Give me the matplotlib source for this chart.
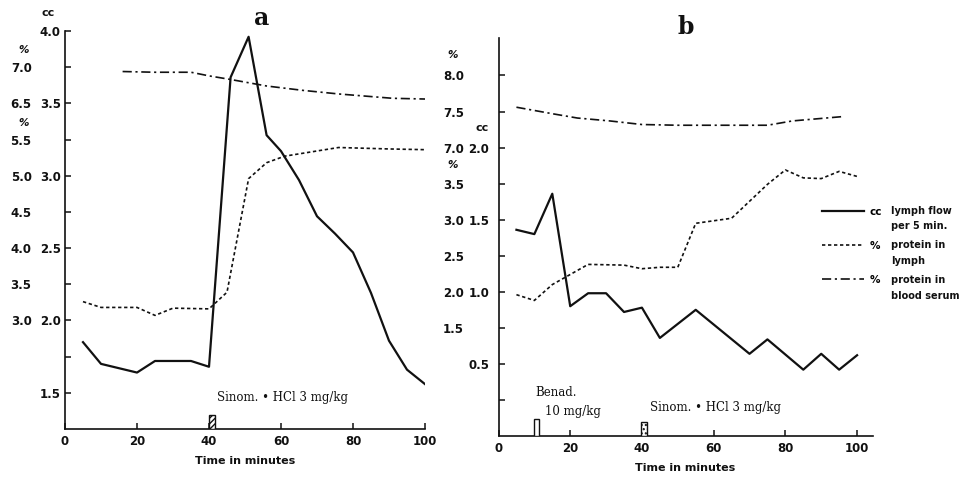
import matplotlib
matplotlib.use('Agg')
import matplotlib.pyplot as plt

# ---------------- data: panel a ----------------
a_flow_t = [5, 10, 20, 25, 35, 40, 46, 51, 56, 60, 65, 70, 75, 80, 85, 90, 95, 100]
a_flow_cc = [1.85, 1.70, 1.64, 1.72, 1.72, 1.68, 3.68, 3.96, 3.28, 3.17, 2.97, 2.72,
             2.60, 2.47, 2.19, 1.86, 1.66, 1.56]
a_lymph_t = [5, 10, 20, 25, 30, 40, 45, 51, 56, 61, 76, 90, 100]
a_lymph_pct = [3.26, 3.18, 3.18, 3.07, 3.17, 3.16, 3.39, 4.96, 5.18, 5.27, 5.39, 5.37, 5.36]
a_serum_t = [16, 25, 35, 40, 46, 56, 66, 76, 91, 100]
a_serum_pct = [6.94, 6.93, 6.93, 6.88, 6.83, 6.74, 6.68, 6.63, 6.57, 6.56]

# ---------------- data: panel b ----------------
b_flow_t = [5, 10, 15, 20, 25, 30, 35, 40, 45, 55, 70, 75, 85, 90, 95, 100]
b_flow_cc = [1.43, 1.40, 1.68, 0.90, 0.99, 0.99, 0.86, 0.89, 0.68, 0.875, 0.57, 0.67,
             0.46, 0.57, 0.46, 0.56]
b_lymph_t = [5, 10, 15, 20, 25, 35, 40, 45, 50, 55, 65, 75, 80, 85, 90, 95, 100]
b_lymph_pct = [1.96, 1.88, 2.10, 2.24, 2.38, 2.37, 2.32, 2.34, 2.34, 2.95, 3.02, 3.49,
               3.69, 3.58, 3.57, 3.67, 3.60]
b_serum_t = [5, 15, 22, 31, 40, 50, 65, 75, 82, 96]
b_serum_pct = [7.56, 7.47, 7.41, 7.37, 7.32, 7.31, 7.31, 7.31, 7.37, 7.43]

# injections
a_sinom_t = 40
b_benad_t = 10
b_sinom_t = 40

x_ticks = [0, 20, 40, 60, 80, 100]
a_cc_major = [1.5, 2.0, 2.5, 3.0, 3.5, 4.0]
a_cc_minor = [1.75, 2.25, 2.75, 3.25, 3.75]
a_lymph_ticks = [3.0, 3.5, 4.0, 4.5, 5.0, 5.5]
a_serum_ticks = [6.5, 7.0]
b_cc_major = [0.5, 1.0, 1.5, 2.0]
b_cc_minor = [0.25, 0.75, 1.25, 1.75, 2.25, 2.5]
b_lymph_ticks = [1.5, 2.0, 2.5, 3.0, 3.5]
b_serum_ticks = [7.0, 7.5, 8.0]

INK = '#111111'
TICKFONT = dict(family='DejaVu Sans', weight='bold', size=8.5)
SOLID = dict(color=INK, lw=1.6, ls='-')
DOTTED = dict(color=INK, lw=1.2, ls=(0, (2.0, 1.6)))
DASHDOT = dict(color=INK, lw=1.2, ls=(0, (5.5, 2.2, 1.3, 2.2)))

W, H = 977, 483
fig = plt.figure(figsize=(W / 100, H / 100), dpi=100)
fig.patch.set_facecolor('white')


def fx(px):
    return px / W


def fy(py):
    return 1 - py / H


def style_main(ax, major, minor, pad):
    for s in ('top', 'right'):
        ax.spines[s].set_visible(False)
    for s in ('left', 'bottom'):
        ax.spines[s].set_linewidth(1.2)
        ax.spines[s].set_color(INK)
    ax.set_xticks(x_ticks)
    ax.set_xticklabels([str(v) for v in x_ticks])
    ax.set_yticks(major)
    ax.set_yticklabels([f'{v:.1f}' for v in major])
    ax.set_yticks(minor, minor=True)
    ax.tick_params(axis='both', which='both', direction='in', length=4.5, width=1.1,
                   color=INK, labelcolor=INK)
    ax.tick_params(axis='y', which='both', pad=pad)
    ax.tick_params(axis='x', which='both', pad=4)
    ax.tick_params(axis='x', which='minor', bottom=False)
    for lab in ax.get_xticklabels() + ax.get_yticklabels():
        lab.set_fontfamily(TICKFONT['family'])
        lab.set_fontweight(TICKFONT['weight'])
        lab.set_fontsize(TICKFONT['size'])
    ax.set_xlabel('Time in minutes', fontsize=8, fontweight='bold', family='DejaVu Sans',
                  color=INK, labelpad=6)


def style_twin(tw, ticks, lim, pad):
    tw.set_ylim(*lim)
    for s in tw.spines.values():
        s.set_visible(False)
    tw.yaxis.tick_left()
    tw.set_yticks(ticks)
    tw.set_yticklabels([f'{v:.1f}' for v in ticks])
    tw.tick_params(axis='y', which='both', length=0, pad=pad, labelcolor=INK)
    for lab in tw.get_yticklabels():
        lab.set_fontfamily(TICKFONT['family'])
        lab.set_fontweight(TICKFONT['weight'])
        lab.set_fontsize(TICKFONT['size'])


# ---------------- panel a ----------------
ax_a = fig.add_axes([fx(65), fy(429), fx(360), (429 - 31) / H])
ax_a.set_xlim(0, 100)
ax_a.set_ylim(1.25, 4.0)
style_main(ax_a, a_cc_major, a_cc_minor, pad=3.0)
ax_a.plot(a_flow_t, a_flow_cc, **SOLID)

tw_a_l = ax_a.twinx()
style_twin(tw_a_l, a_lymph_ticks, (1.5, 7.0), pad=24)
tw_a_l.plot(a_lymph_t, a_lymph_pct, **DOTTED)

tw_a_s = ax_a.twinx()
style_twin(tw_a_s, a_serum_ticks, (2.0, 7.5), pad=24)
tw_a_s.plot(a_serum_t, a_serum_pct, **DASHDOT)

ax_a.bar([a_sinom_t + 0.9], [0.1], bottom=1.25, width=1.8, facecolor='white',
         edgecolor=INK, hatch='//////', lw=1.0, zorder=3)
ax_a.text(60.5, 1.47, 'Sinom. • HCl 3 mg/kg', ha='center', va='center', fontsize=8.5,
          family='DejaVu Serif', color=INK)

fig.text(fx(262), fy(18), 'a', ha='center', va='center', fontsize=17, fontweight='bold',
         family='DejaVu Serif', color=INK)
fig.text(fx(48), fy(13), 'cc', ha='center', va='center', fontsize=8, fontweight='bold',
         family='DejaVu Sans', color=INK)
fig.text(fx(24), fy(50), '%', ha='center', va='center', fontsize=7.5, fontweight='bold',
         family='DejaVu Sans', color=INK, style='italic')
fig.text(fx(24), fy(123), '%', ha='center', va='center', fontsize=7.5, fontweight='bold',
         family='DejaVu Sans', color=INK, style='italic')

# ---------------- panel b ----------------
ax_b = fig.add_axes([fx(498.5), fy(436), fx(374), (436 - 38) / H])
ax_b.set_xlim(0, 104.3)
ax_b.set_ylim(0, 2.76)
style_main(ax_b, b_cc_major, b_cc_minor, pad=6.5)
l_flow, = ax_b.plot(b_flow_t, b_flow_cc, **SOLID)

tw_b_l = ax_b.twinx()
style_twin(tw_b_l, b_lymph_ticks, (0.0, 5.52), pad=25)
l_lymph, = tw_b_l.plot(b_lymph_t, b_lymph_pct, **DOTTED)

tw_b_s = ax_b.twinx()
style_twin(tw_b_s, b_serum_ticks, (3.0, 8.52), pad=25)
l_serum, = tw_b_s.plot(b_serum_t, b_serum_pct, **DASHDOT)

ax_b.bar([b_benad_t + 0.7], [0.12], bottom=0, width=1.4, facecolor='white',
         edgecolor=INK, lw=1.0, zorder=3)
ax_b.bar([b_sinom_t + 0.5], [0.1], bottom=0, width=1.7, facecolor='white',
         edgecolor=INK, hatch='....', lw=1.0, zorder=3)
ax_b.text(10.4, 0.30, 'Benad.', ha='left', va='center', fontsize=8.5,
          family='DejaVu Serif', color=INK)
ax_b.text(12.9, 0.17, '10 mg/kg', ha='left', va='center', fontsize=8.5,
          family='DejaVu Serif', color=INK)
ax_b.text(60.6, 0.195, 'Sinom. • HCl 3 mg/kg', ha='center', va='center', fontsize=8.5,
          family='DejaVu Serif', color=INK)

fig.text(fx(686), fy(27), 'b', ha='center', va='center', fontsize=17, fontweight='bold',
         family='DejaVu Serif', color=INK)
fig.text(fx(482), fy(128), 'cc', ha='center', va='center', fontsize=8, fontweight='bold',
         family='DejaVu Sans', color=INK)
fig.text(fx(453), fy(55), '%', ha='center', va='center', fontsize=7.5, fontweight='bold',
         family='DejaVu Sans', color=INK, style='italic')
fig.text(fx(453), fy(165), '%', ha='center', va='center', fontsize=7.5, fontweight='bold',
         family='DejaVu Sans', color=INK, style='italic')

# ---------------- legend ----------------
leg = fig.legend(handles=[l_flow, l_lymph, l_serum], labels=['cc', '%', '%'],
                 loc='upper left', bbox_to_anchor=(fx(822), fy(207)), frameon=False,
                 handlelength=4.0, handletextpad=0.6, labelspacing=2.3, borderpad=0,
                 borderaxespad=0, prop=dict(family='DejaVu Sans', weight='bold', size=7.5))
desc = [('lymph flow', 211), ('per 5 min.', 226), ('protein in', 245), ('lymph', 261),
        ('protein in', 280), ('blood serum', 296)]
for txt, py in desc:
    fig.text(fx(891), fy(py), txt, ha='left', va='center', fontsize=7, fontweight='bold',
             family='DejaVu Sans', color=INK)

fig.savefig('out.png', dpi=100, facecolor='white')
